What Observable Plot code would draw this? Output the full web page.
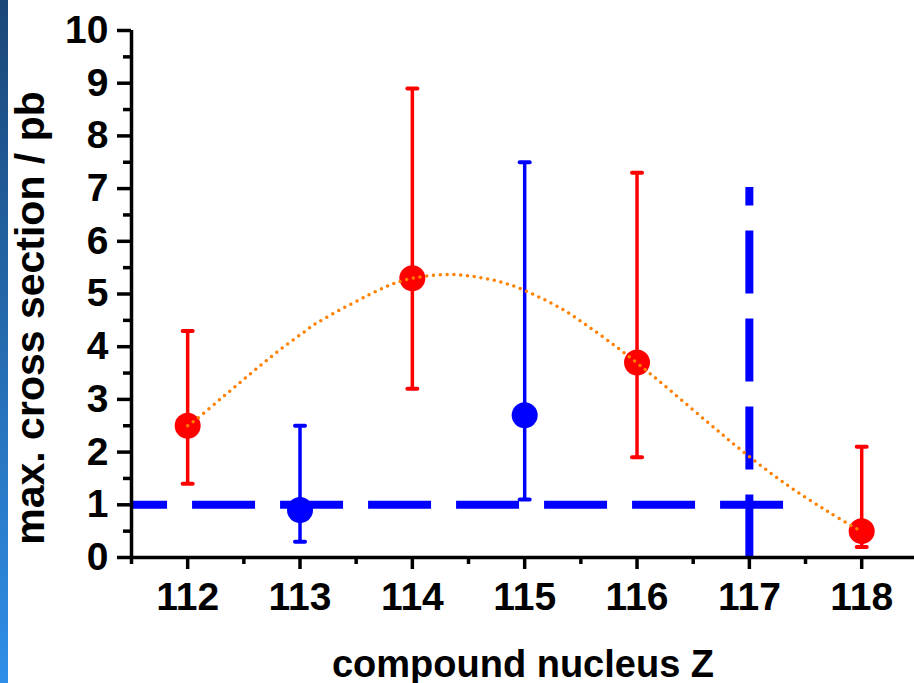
<!DOCTYPE html>
<html><head><meta charset="utf-8">
<script src="https://cdn.jsdelivr.net/npm/d3@7"></script>
<script src="https://cdn.jsdelivr.net/npm/@observablehq/plot@0.6"></script>
<style>
html,body{margin:0;padding:0;background:#fff;}
#wrap{position:relative;width:914px;height:683px;overflow:hidden;}
#strip{position:absolute;left:0;top:0;width:8px;height:683px;background:linear-gradient(#1b4778,#2f8fe8);}
</style></head><body><div id="wrap"><div id="strip"></div></div>
<script>
// measured data (Z, max cross section in pb, error bar bounds)
const redZ = [112, 114, 116, 118];
const redSigma = [2.5, 5.3, 3.7, 0.5];
const redLow = [1.4, 3.2, 1.9, 0.2];
const redHigh = [4.3, 8.9, 7.3, 2.1];

const blueZ = [113, 115];
const blueSigma = [0.9, 2.7];
const blueLow = [0.3, 1.1];
const blueHigh = [2.5, 7.5];

// dotted orange guide curve
const curveZ = [112, 112.065, 112.31, 112.55, 112.79, 113.03, 113.15, 113.757, 113.943, 114.128, 114.365, 114.608, 114.849, 115.09, 115.336, 115.576, 115.82, 116.0, 116.19, 116.605, 116.96, 117.33, 117.7, 118];
const curveSigma = [2.5, 2.6, 3.04, 3.47, 3.89, 4.27, 4.45, 5.13, 5.27, 5.34, 5.37, 5.31, 5.19, 4.98, 4.71, 4.37, 3.99, 3.69, 3.36, 2.61, 1.98, 1.385, 0.87, 0.49];

// blue dashed limit lines
const limitHZ = [117.3, 111.5];
const limitHSigma = [1, 1];
const limitVZ = [117, 117];
const limitVSigma = [0, 7.03];

// ticks
const xTicks = [112, 113, 114, 115, 116, 117, 118];
const xMinor = [111.5, 112.5, 113.5, 114.5, 115.5, 116.5, 117.5];
const yTicks = [0, 1, 2, 3, 4, 5, 6, 7, 8, 9, 10];
const yMinor = [0.5, 1.5, 2.5, 3.5, 4.5, 5.5, 6.5, 7.5, 8.5, 9.5];

const xTitle = "compound nucleus Z";
const yTitle = "max. cross section / pb";

const red = redZ.map((z, i) => ({z, s: redSigma[i], lo: redLow[i], hi: redHigh[i]}));
const blue = blueZ.map((z, i) => ({z, s: blueSigma[i], lo: blueLow[i], hi: blueHigh[i]}));
const curve = curveZ.map((z, i) => ({z, s: curveSigma[i]}));
const limH = limitHZ.map((z, i) => ({z, s: limitHSigma[i]}));
const limV = limitVZ.map((z, i) => ({z, s: limitVSigma[i]}));

const capSymbol = {draw(ctx, size) { const r = Math.sqrt(size / Math.PI); ctx.moveTo(-r, 0); ctx.lineTo(r, 0); }};

const RED = "#ff0000", BLUE = "#0000ff", ORANGE = "#ff8000";
const AW = 3.5;
const fmt = d => String(d);

const chart = Plot.plot({
  width: 914,
  height: 683,
  marginLeft: 131,
  marginRight: 0,
  marginTop: 30,
  marginBottom: 126,
  style: {fontFamily: "Arial, 'Liberation Sans', sans-serif", fontWeight: "bold", color: "black", background: "transparent", overflow: "visible"},
  x: {domain: [111.5, 118.47], axis: null},
  y: {domain: [0, 10], axis: null},
  marks: [
    // blue dashed limits
    Plot.line(limH, {x: "z", y: "s", stroke: BLUE, strokeWidth: 8, strokeDasharray: "63,25", strokeLinecap: "butt"}),
    Plot.line(limV, {x: "z", y: "s", stroke: BLUE, strokeWidth: 8, strokeDasharray: "63,25", strokeLinecap: "butt"}),
    // error bars
    Plot.ruleX(red, {x: "z", y1: "lo", y2: "hi", stroke: RED, strokeWidth: AW}),
    Plot.ruleX(blue, {x: "z", y1: "lo", y2: "hi", stroke: BLUE, strokeWidth: AW}),
    Plot.dot(red, {x: "z", y: "hi", symbol: capSymbol, r: 5, fill: "none", stroke: RED, strokeWidth: 4, strokeLinecap: "round"}),
    Plot.dot(red, {x: "z", y: "lo", symbol: capSymbol, r: 5, fill: "none", stroke: RED, strokeWidth: 4, strokeLinecap: "round"}),
    Plot.dot(blue, {x: "z", y: "hi", symbol: capSymbol, r: 5, fill: "none", stroke: BLUE, strokeWidth: 4, strokeLinecap: "round"}),
    Plot.dot(blue, {x: "z", y: "lo", symbol: capSymbol, r: 5, fill: "none", stroke: BLUE, strokeWidth: 4, strokeLinecap: "round"}),
    // points
    Plot.dot(red, {x: "z", y: "s", r: 13, fill: RED}),
    Plot.dot(blue, {x: "z", y: "s", r: 13, fill: BLUE}),
    // orange dotted curve
    Plot.line(curve, {x: "z", y: "s", stroke: ORANGE, strokeWidth: 3.5, strokeDasharray: "0,6.8", strokeLinecap: "round", curve: "catmull-rom"}),
    // axes
    Plot.axisY(yTicks, {tickSize: 14, tickPadding: 9, fontSize: 39, tickFormat: fmt, strokeWidth: AW, label: null}),
    Plot.axisY(yMinor, {tickSize: 8, tickFormat: () => "", strokeWidth: AW, label: null}),
    Plot.axisX(xTicks, {tickSize: 12, tickPadding: 13, fontSize: 39, tickFormat: fmt, strokeWidth: AW, label: null}),
    Plot.axisX(xMinor, {tickSize: 7, tickFormat: () => "", strokeWidth: AW, label: null}),
    Plot.ruleX([111.5], {y1: 0, y2: 10, strokeWidth: AW}),
    Plot.ruleY([0], {strokeWidth: AW}),
    // titles
    Plot.text([xTitle], {text: d => d, frameAnchor: "bottom", dy: 119, lineAnchor: "bottom", fontSize: 38}),
    Plot.text([yTitle], {text: d => d, frameAnchor: "left", rotate: -90, dx: -88, dy: 24, lineAnchor: "bottom", textAnchor: "middle", fontSize: 41})
  ]
});
document.getElementById("wrap").prepend(chart);
</script>
</body></html>
